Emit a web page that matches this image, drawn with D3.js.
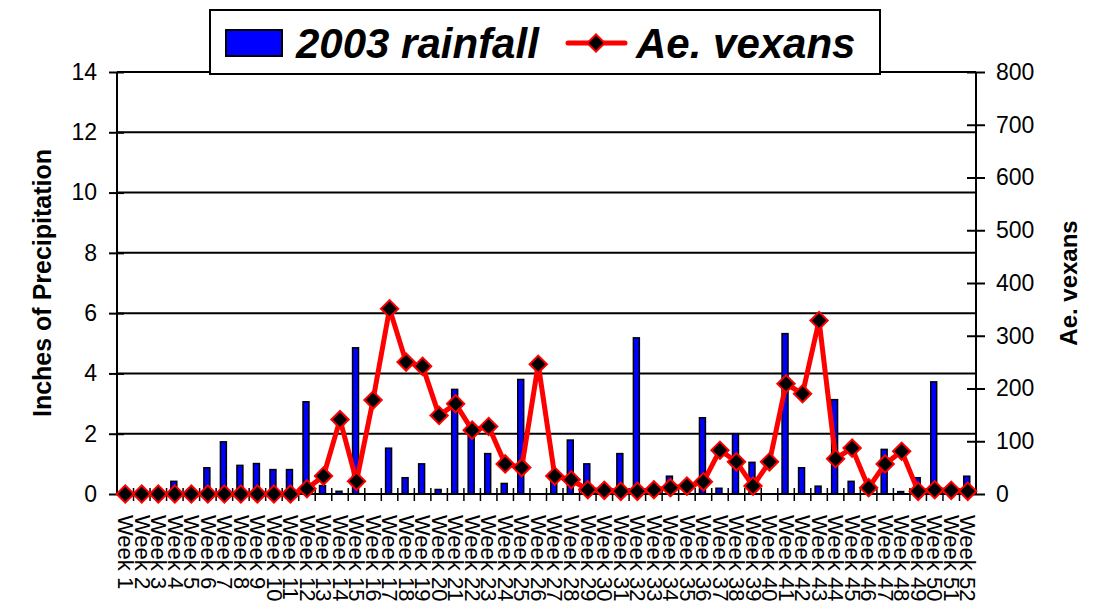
<!DOCTYPE html>
<html>
<head>
<meta charset="utf-8">
<script src="https://cdn.jsdelivr.net/npm/d3@7"></script>
<style>
  body { margin: 0; background: #fff; }
  svg { display: block; font-family: "Liberation Sans", Arial, sans-serif; }
</style>
</head>
<body>
<div id="chart"></div>
<script>
// weekly data, 2003
const weeks = d3.range(1, 53).map(i => "Week " + i);

const rainfall = [
  0, 0, 0, 0.42, 0, 0.87, 1.73, 0.95, 1.01, 0.81,
  0.81, 3.06, 0.28, 0.09, 4.85, 0, 1.52, 0.54, 1.0, 0.15,
  3.47, 2.2, 1.34, 0.35, 3.8, 0, 0.5, 1.79, 1.0, 0,
  1.34, 5.18, 0, 0.59, 0, 2.53, 0.19, 2.0, 1.05, 0,
  5.32, 0.87, 0.26, 3.13, 0.42, 0, 1.48, 0.08, 0.54, 3.72,
  0, 0.59
];

const vexans = [
  0, 0, 0, 0, 0, 0, 0, 0, 0, 0,
  0, 10, 34, 141, 24, 178, 351, 250, 242, 149,
  171, 121, 128, 57, 50, 246, 34, 27, 8, 7,
  5, 5, 8, 12, 15, 23, 83, 61, 15, 61,
  209, 190, 329, 67, 87, 12, 57, 81, 5, 8,
  7, 5
];

const leftTicks = [0, 2, 4, 6, 8, 10, 12, 14];
const rightTicks = [0, 100, 200, 300, 400, 500, 600, 700, 800];

const W = 1104, H = 610;
const margin = { top: 72, right: 128, bottom: 116, left: 117 };
const plotRight = W - margin.right;
const plotBottom = H - margin.bottom;

const svg = d3.select("#chart").append("svg")
  .attr("width", W)
  .attr("height", H);

const x = d3.scaleBand().domain(weeks).range([margin.left, plotRight]).padding(0);
const yL = d3.scaleLinear().domain([0, 14]).range([plotBottom, margin.top]);
const yR = d3.scaleLinear().domain([0, 800]).range([plotBottom, margin.top]);

// gridlines
svg.append("g")
  .selectAll("line")
  .data(leftTicks.slice(1))
  .enter()
  .append("line")
  .attr("x1", margin.left)
  .attr("x2", plotRight)
  .attr("y1", d => yL(d))
  .attr("y2", d => yL(d))
  .attr("stroke", "#000")
  .attr("stroke-width", 2);

// bars
const bw = x.bandwidth();
svg.append("g")
  .selectAll("rect")
  .data(rainfall)
  .enter()
  .append("rect")
  .attr("x", (d, i) => x(weeks[i]) + bw * 0.26)
  .attr("width", bw * 0.36)
  .attr("y", d => yL(d))
  .attr("height", d => plotBottom - yL(d))
  .attr("fill", "#0000ff")
  .attr("stroke", "#000")
  .attr("stroke-width", 1.5)
  .style("display", d => d > 0 ? null : "none");

// left axis
const gL = svg.append("g")
  .attr("transform", "translate(" + margin.left + ",0)")
  .call(d3.axisLeft(yL).tickValues(leftTicks).tickSize(8).tickPadding(12));
gL.select(".domain").attr("stroke-width", 2).attr("d", "M0," + margin.top + "V" + plotBottom);
gL.selectAll(".tick line").attr("x1", 7).attr("stroke-width", 2);
gL.selectAll(".tick text").style("font-size", "23px").attr("fill", "#000");

// right axis
const gR = svg.append("g")
  .attr("transform", "translate(" + plotRight + ",0)")
  .call(d3.axisRight(yR).tickValues(rightTicks).tickSize(9).tickPadding(11));
gR.select(".domain").attr("stroke-width", 2).attr("d", "M0," + margin.top + "V" + plotBottom);
gR.selectAll(".tick line").attr("x1", -9).attr("stroke-width", 2);
gR.selectAll(".tick text").style("font-size", "23px").attr("fill", "#000");

// x axis line + boundary ticks
const gX = svg.append("g");
gX.append("line")
  .attr("x1", margin.left).attr("x2", plotRight)
  .attr("y1", plotBottom).attr("y2", plotBottom)
  .attr("stroke", "#000").attr("stroke-width", 2);
gX.selectAll(".bt")
  .data(weeks.slice(1))
  .enter()
  .append("line")
  .attr("class", "bt")
  .attr("x1", d => x(d)).attr("x2", d => x(d))
  .attr("y1", plotBottom - 6).attr("y2", plotBottom + 7)
  .attr("stroke", "#000").attr("stroke-width", 1.5);

// x labels
const gXL = svg.append("g")
  .attr("transform", "translate(0," + plotBottom + ")")
  .call(d3.axisBottom(x).tickSize(0));
gXL.select(".domain").remove();
gXL.selectAll(".tick text")
  .attr("transform", "rotate(90)")
  .attr("x", 21)
  .attr("y", 0)
  .attr("dy", "0.33em")
  .attr("text-anchor", "start")
  .attr("fill", "#000")
  .style("font-size", "22px");

// line series
const line = d3.line()
  .x((d, i) => x(weeks[i]) + bw / 2)
  .y(d => yR(d));

svg.append("path")
  .datum(vexans)
  .attr("d", line)
  .attr("fill", "none")
  .attr("stroke", "#ff0000")
  .attr("stroke-width", 5)
  .attr("stroke-linejoin", "round");

const diamond = d3.symbol().type(d3.symbolSquare).size(150);
svg.append("g")
  .selectAll("path")
  .data(vexans)
  .enter()
  .append("path")
  .attr("d", diamond)
  .attr("transform", (d, i) => "translate(" + (x(weeks[i]) + bw / 2) + "," + yR(d) + ") rotate(45)")
  .attr("fill", "#000")
  .attr("stroke", "#ff0000")
  .attr("stroke-width", 2);

// axis titles
svg.append("text")
  .attr("transform", "translate(51," + ((margin.top + plotBottom) / 2) + ") rotate(-90)")
  .attr("text-anchor", "middle")
  .style("font-size", "25px")
  .style("font-weight", "bold")
  .text("Inches of Precipitation");

svg.append("text")
  .attr("transform", "translate(1077," + ((margin.top + plotBottom) / 2) + ") rotate(-90)")
  .attr("text-anchor", "middle")
  .style("font-size", "24px")
  .style("font-weight", "bold")
  .text("Ae. vexans");

// legend
const lg = svg.append("g");
lg.append("rect")
  .attr("x", 210).attr("y", 10)
  .attr("width", 670).attr("height", 64)
  .attr("fill", "#fff")
  .attr("stroke", "#000")
  .attr("stroke-width", 2);
lg.append("rect")
  .attr("x", 226).attr("y", 30)
  .attr("width", 56).attr("height", 26)
  .attr("fill", "#0000ff")
  .attr("stroke", "#000")
  .attr("stroke-width", 2);
lg.append("text")
  .attr("x", 296).attr("y", 58)
  .style("font-size", "42px")
  .style("font-weight", "bold")
  .style("font-style", "italic")
  .text("2003 rainfall");
lg.append("line")
  .attr("x1", 568).attr("x2", 625)
  .attr("y1", 43).attr("y2", 43)
  .attr("stroke", "#ff0000")
  .attr("stroke-width", 5)
  .attr("stroke-linecap", "round");
lg.append("path")
  .attr("d", diamond)
  .attr("transform", "translate(596,43) rotate(45)")
  .attr("fill", "#000")
  .attr("stroke", "#ff0000")
  .attr("stroke-width", 2);
lg.append("text")
  .attr("x", 636).attr("y", 58)
  .style("font-size", "42px")
  .style("font-weight", "bold")
  .style("font-style", "italic")
  .text("Ae. vexans");
</script>
</body>
</html>
